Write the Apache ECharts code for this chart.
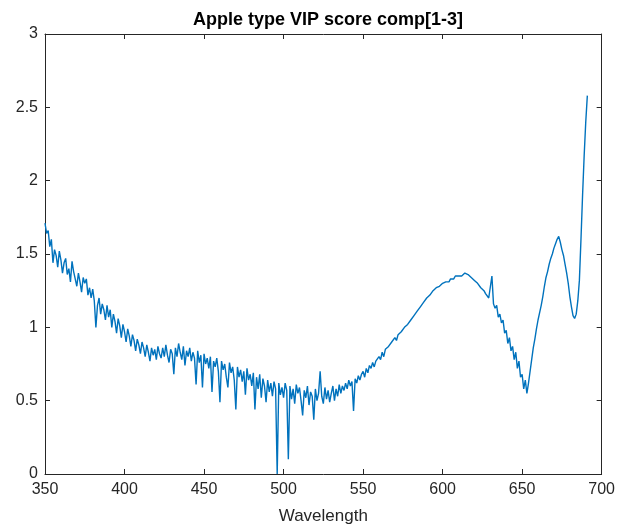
<!DOCTYPE html>
<html>
<head>
<meta charset="utf-8">
<script src="https://cdn.jsdelivr.net/npm/echarts@6/dist/echarts.min.js"></script>
<style>
  html, body { margin: 0; padding: 0; background: #fff; }
  #chart { width: 618px; height: 530px; }
</style>
</head>
<body>
<div id="chart"></div>
<script>
// VIP score, one value per nm starting at 350 nm
const wlStart = 350
const vip = [
  1.71, 1.64, 1.66, 1.55, 1.60, 1.44, 1.53, 1.49, 1.41, 1.52,
  1.46, 1.37, 1.44, 1.47, 1.36, 1.40, 1.31, 1.45, 1.38, 1.33,
  1.28, 1.37, 1.31, 1.24, 1.34, 1.30, 1.33, 1.22, 1.27, 1.20,
  1.26, 1.18, 1.00, 1.15, 1.20, 1.09, 1.16, 1.12, 1.05, 1.15,
  1.07, 1.12, 1.00, 1.09, 1.04, 0.96, 1.06, 1.01, 0.93, 1.02,
  0.97, 0.90, 0.99, 0.94, 0.87, 0.95, 0.91, 0.84, 0.92, 0.88,
  0.82, 0.90, 0.86, 0.80, 0.88, 0.83, 0.77, 0.86, 0.81, 0.85,
  0.78, 0.87, 0.82, 0.79, 0.86, 0.80, 0.88, 0.81, 0.76, 0.85,
  0.82, 0.68, 0.86, 0.80, 0.89, 0.83, 0.78, 0.87, 0.74, 0.84,
  0.80, 0.86, 0.77, 0.83, 0.79, 0.61, 0.84, 0.76, 0.81, 0.59,
  0.82, 0.75, 0.79, 0.72, 0.80, 0.56, 0.77, 0.73, 0.79, 0.70,
  0.49, 0.77, 0.71, 0.75, 0.66, 0.59, 0.76, 0.69, 0.73, 0.64,
  0.44, 0.73, 0.66, 0.71, 0.63, 0.70, 0.54, 0.72, 0.64, 0.68,
  0.60, 0.69, 0.44, 0.66, 0.58, 0.68, 0.52, 0.65, 0.60, 0.49,
  0.64, 0.56, 0.62, 0.53, 0.63, 0.58, 0.00, 0.62, 0.54, 0.59,
  0.52, 0.62, 0.57, 0.10, 0.60, 0.51, 0.58, 0.48, 0.61, 0.55,
  0.59, 0.50, 0.40, 0.57, 0.52, 0.60, 0.47, 0.56, 0.53, 0.37,
  0.58, 0.50, 0.55, 0.70, 0.53, 0.48, 0.59, 0.51, 0.57, 0.49,
  0.55, 0.60, 0.50, 0.58, 0.53, 0.61, 0.55, 0.60, 0.57, 0.62,
  0.58, 0.64, 0.60, 0.63, 0.43, 0.65, 0.62, 0.67, 0.64, 0.68,
  0.70, 0.66, 0.72, 0.69, 0.74, 0.72, 0.76, 0.73, 0.77, 0.76,
  0.80, 0.78, 0.83, 0.80, 0.85, 0.84, 0.87, 0.86, 0.90, 0.89,
  0.93, 0.91, 0.95, 0.94, 0.97, 0.96, 1.00, 0.99, 1.02, 1.01,
  1.05, 1.04, 1.08, 1.07, 1.11, 1.10, 1.14, 1.14, 1.17, 1.17,
  1.20, 1.19, 1.22, 1.23, 1.25, 1.24, 1.27, 1.26, 1.28, 1.29,
  1.30, 1.29, 1.31, 1.32, 1.31, 1.33, 1.34, 1.33, 1.35, 1.34,
  1.35, 1.36, 1.35, 1.36, 1.37, 1.36, 1.36, 1.35, 1.34, 1.34,
  1.32, 1.31, 1.30, 1.29, 1.27, 1.26, 1.25, 1.23, 1.22, 1.20,
  1.19, 1.35, 1.16, 1.13, 1.15, 1.07, 1.09, 1.03, 1.05, 0.96,
  0.98, 0.89, 0.93, 0.84, 0.87, 0.78, 0.83, 0.72, 0.77, 0.66,
  0.68, 0.58, 0.64, 0.55, 0.62, 0.70, 0.78, 0.86, 0.92, 0.99,
  1.05, 1.10, 1.15, 1.21, 1.28, 1.34, 1.38, 1.43, 1.47, 1.50,
  1.54, 1.57, 1.60, 1.62, 1.58, 1.53, 1.49, 1.43, 1.37, 1.30,
  1.21, 1.14, 1.08, 1.06, 1.09, 1.18, 1.32, 1.60, 1.90, 2.17,
  2.40, 2.58
]
const xTicks = [350, 400, 450, 500, 550, 600, 650, 700]
const yTicks = [0, 0.5, 1, 1.5, 2, 2.5, 3]

const points = vip.map((v, i) => [wlStart + i, v])

const axisColor = '#262626'
const font = 'Liberation Sans, Arial, sans-serif'

const chart = echarts.init(document.getElementById('chart'))

const baseAxis = {
  axisLine: {show: true, onZero: false, lineStyle: {color: axisColor, width: 1}},
  axisTick: {show: true, inside: true, length: 5, lineStyle: {color: axisColor}},
  splitLine: {show: false}
}

chart.setOption({
  animation: false,
  title: {
    text: 'Apple type VIP score comp[1-3]',
    left: 323, top: 6, textAlign: 'center',
    textStyle: {fontFamily: font, fontSize: 18, fontWeight: 'bold', color: '#000'}
  },
  grid: {left: 45, right: 12, top: 34, bottom: 54, containLabel: false},
  xAxis: [
    Object.assign({}, baseAxis, {
      type: 'value', position: 'bottom',
      min: xTicks[0], max: xTicks[xTicks.length - 1], interval: 50,
      name: 'Wavelength', nameLocation: 'middle', nameGap: 34,
      nameTextStyle: {fontFamily: font, fontSize: 17, color: axisColor},
      axisLabel: {fontFamily: font, fontSize: 16, color: axisColor, margin: 8}
    }),
    Object.assign({}, baseAxis, {
      type: 'value', position: 'top',
      min: xTicks[0], max: xTicks[xTicks.length - 1], interval: 50,
      axisLabel: {show: false}
    })
  ],
  yAxis: [
    Object.assign({}, baseAxis, {
      type: 'value', position: 'left',
      min: yTicks[0], max: yTicks[yTicks.length - 1], interval: 0.5,
      axisLabel: {fontFamily: font, fontSize: 16, color: axisColor, margin: 7}
    }),
    Object.assign({}, baseAxis, {
      type: 'value', position: 'right',
      min: yTicks[0], max: yTicks[yTicks.length - 1], interval: 0.5,
      axisLabel: {show: false}
    })
  ],
  series: [{
    type: 'line',
    data: points,
    showSymbol: false,
    clip: true,
    lineStyle: {color: '#0072BD', width: 1.4},
    itemStyle: {color: '#0072BD'}
  }]
})
</script>
</body>
</html>
